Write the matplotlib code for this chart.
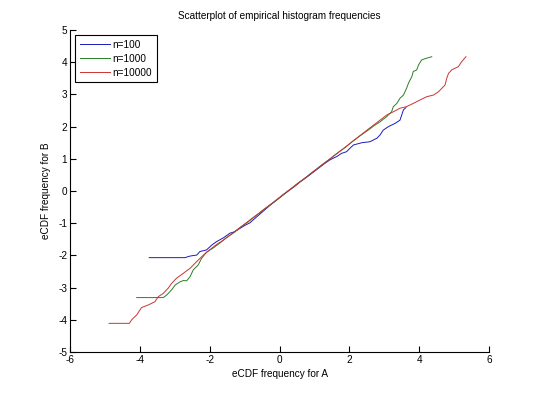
import matplotlib
matplotlib.use("Agg")
import matplotlib.pyplot as plt

plt.rcParams['font.family'] = ['Liberation Sans', 'DejaVu Sans']

title = "Scatterplot of empirical histogram frequencies"
xlabel = "eCDF frequency for A"
ylabel = "eCDF frequency for B"
series_names = ["n=100", "n=1000", "n=10000"]

x_n100 = [-3.73, -2.71, -2.56, -2.37, -2.28, -2.09, -1.94, -1.80, -1.60, -1.42, -1.30, -1.13,
          -0.98, -0.85, -0.65, -0.46, -0.30, -0.12, 0.05, 0.25, 0.42, 0.60, 0.78, 0.95, 1.12,
          1.30, 1.45, 1.64, 1.78, 1.92, 2.02, 2.12, 2.36, 2.59, 2.79, 2.88, 2.97, 3.12, 3.31,
          3.45, 3.50, 3.55, 3.62]
y_n100 = [-2.07, -2.07, -2.02, -1.99, -1.88, -1.83, -1.68, -1.57, -1.45, -1.31, -1.27, -1.16,
          -1.06, -0.99, -0.80, -0.62, -0.47, -0.31, -0.17, 0.00, 0.13, 0.29, 0.43, 0.57, 0.71,
          0.86, 0.97, 1.07, 1.17, 1.22, 1.33, 1.43, 1.50, 1.53, 1.64, 1.74, 1.89, 2.00, 2.10,
          2.20, 2.36, 2.52, 2.59]

x_n1000 = [-4.09, -3.33, -3.23, -3.09, -2.99, -2.85, -2.75, -2.66, -2.56, -2.47, -2.33, -2.23,
           -2.09, -1.90, -1.70, -1.50, -1.30, -1.10, -0.90, -0.70, -0.50, -0.30, -0.10, 0.10,
           0.30, 0.50, 0.70, 0.90, 1.10, 1.30, 1.50, 1.70, 1.90, 2.10, 2.30, 2.50, 2.70, 2.88,
           3.07, 3.21, 3.26, 3.36, 3.45, 3.55, 3.64, 3.69, 3.74, 3.79, 3.83, 3.93, 3.98, 4.07,
           4.20, 4.36]
y_n1000 = [-3.31, -3.31, -3.23, -3.07, -2.92, -2.82, -2.78, -2.79, -2.66, -2.45, -2.30, -2.09,
           -1.90, -1.77, -1.61, -1.43, -1.29, -1.11, -0.96, -0.79, -0.62, -0.46, -0.30, -0.12,
           0.04, 0.22, 0.37, 0.55, 0.71, 0.88, 1.04, 1.21, 1.37, 1.55, 1.71, 1.86, 2.02, 2.15,
           2.31, 2.46, 2.62, 2.72, 2.88, 2.98, 3.19, 3.34, 3.45, 3.55, 3.71, 3.76, 3.91, 4.07,
           4.12, 4.17]

x_n10000 = [-4.88, -4.30, -4.24, -4.19, -4.09, -4.00, -3.95, -3.76, -3.57, -3.47, -3.33, -3.19,
            -3.09, -2.95, -2.76, -2.56, -2.37, -2.18, -1.99, -1.80, -1.60, -1.40, -1.20, -1.00,
            -0.80, -0.60, -0.40, -0.20, 0.00, 0.20, 0.40, 0.60, 0.80, 1.00, 1.20, 1.40, 1.60,
            1.80, 2.00, 2.20, 2.40, 2.60, 2.88, 3.07, 3.26, 3.45, 3.64, 3.83, 4.03, 4.22, 4.41,
            4.55, 4.65, 4.74, 4.79, 4.84, 4.93, 5.12, 5.22, 5.34]
y_n10000 = [-4.11, -4.11, -4.01, -3.95, -3.85, -3.70, -3.62, -3.54, -3.44, -3.28, -3.18, -3.02,
            -2.87, -2.71, -2.56, -2.40, -2.19, -1.99, -1.82, -1.66, -1.52, -1.36, -1.19, -1.03,
            -0.86, -0.70, -0.53, -0.37, -0.20, -0.03, 0.13, 0.30, 0.46, 0.63, 0.80, 0.96, 1.13,
            1.29, 1.46, 1.63, 1.80, 1.97, 2.20, 2.36, 2.46, 2.57, 2.62, 2.72, 2.83, 2.93, 2.98,
            3.08, 3.19, 3.29, 3.50, 3.65, 3.76, 3.86, 4.02, 4.17]

xticks = [-6, -4, -2, 0, 2, 4, 6]
yticks = [-5, -4, -3, -2, -1, 0, 1, 2, 3, 4, 5]

FS = 7.2

fig = plt.figure(figsize=(5.4, 3.96), dpi=100)
ax = fig.add_axes([70/540, 1-352/396, (489-70)/540, (352-30)/396])

ax.plot(x_n100, y_n100, color=(0.1, 0.1, 0.75), lw=0.7, label=series_names[0])
ax.plot(x_n1000, y_n1000, color=(0.15, 0.5, 0.15), lw=0.7, label=series_names[1])
ax.plot(x_n10000, y_n10000, color=(0.8, 0.2, 0.2), lw=0.7, label=series_names[2])

ax.set_xlim(-6, 6)
ax.set_ylim(-5, 5)
ax.set_xticks(xticks)
ax.set_yticks(yticks)
ax.set_xticklabels([str(t) for t in xticks])
ax.set_yticklabels([str(t) for t in yticks])
ax.tick_params(direction='in', length=4, width=0.8, labelsize=FS, pad=2)
for s in ['top', 'right']:
    ax.spines[s].set_visible(False)
for s in ['left', 'bottom']:
    ax.spines[s].set_linewidth(0.8)

ax.set_xlabel(xlabel, fontsize=FS, labelpad=3)
ax.set_ylabel(ylabel, fontsize=FS, labelpad=5)
ax.set_title(title, fontsize=FS, pad=8)

leg = ax.legend(loc='upper left', fontsize=FS, frameon=True, fancybox=False,
                edgecolor='black', framealpha=1, handlelength=3.0, handletextpad=0.3,
                borderpad=0.45, labelspacing=0.4, borderaxespad=0.5)
leg.get_frame().set_linewidth(0.8)

fig.savefig("out.png", dpi=100)
